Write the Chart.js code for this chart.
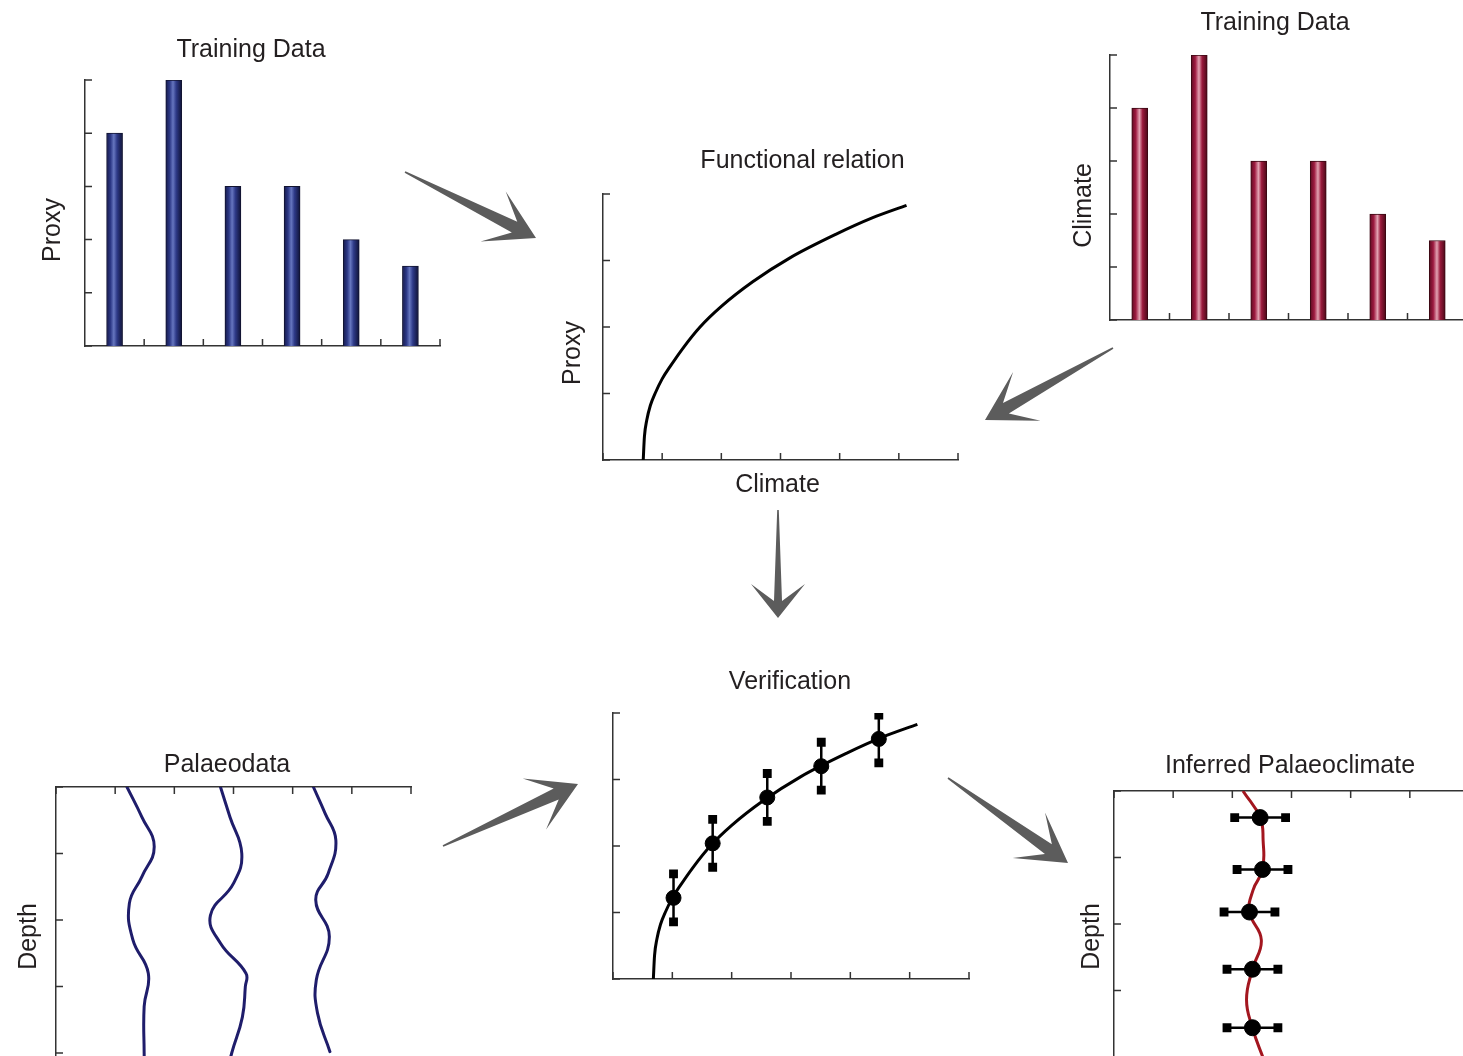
<!DOCTYPE html>
<html>
<head>
<meta charset="utf-8">
<title>Proxy calibration and palaeoclimate inference</title>
<script src="https://cdn.jsdelivr.net/npm/chart.js@4.4.0/dist/chart.umd.min.js"></script>
<style>
  html, body { margin: 0; padding: 0; background: #fff; overflow: hidden; width: 1463px; height: 1056px; }
  canvas { position: absolute; left: 0; top: 0; }
</style>
</head>
<body>
<canvas id="arrows" width="1463" height="1056"></canvas>
<canvas id="proxyBars" width="1500" height="1150"></canvas>
<canvas id="climateBars" width="1500" height="1150"></canvas>
<canvas id="relation" width="1500" height="1150"></canvas>
<canvas id="palaeo" width="1500" height="1150"></canvas>
<canvas id="verify" width="1500" height="1150"></canvas>
<canvas id="inferred" width="1500" height="1150"></canvas>
<script>
// training samples
const samples = ['1', '2', '3', '4', '5', '6'];
const proxyValues = [4, 5, 3, 3, 2, 1.5];
const climateValues = [4, 5, 3, 3, 2, 1.5];

// functional relation (climate -> proxy)
const curveClimate = [0.68, 0.70, 0.74, 0.80, 0.88, 1.0, 1.13, 1.35, 1.64, 2.0, 2.53, 3.16, 3.95, 4.55, 5.13];
const curveProxy   = [0, 0.35, 0.60, 0.82, 1.0, 1.22, 1.40, 1.68, 2.0, 2.31, 2.68, 3.04, 3.40, 3.64, 3.83];

// verification points
const verifClimate = [1.02, 1.68, 2.60, 3.51, 4.48];
const verifProxy   = [1.22, 2.04, 2.73, 3.20, 3.61];
const verifErr     = [0.36, 0.36, 0.36, 0.36, 0.36];

// palaeodata cores (value vs depth)
const core1X = [1.20, 1.45, 1.66, 1.45, 1.24, 1.30, 1.56, 1.49, 1.49, 1.50];
const core1D = [0, 0.45, 0.90, 1.35, 1.75, 2.30, 2.80, 3.30, 4.00, 4.60];
const core2X = [2.78, 2.94, 3.14, 3.00, 2.61, 2.78, 3.21, 3.20, 3.15, 2.97, 2.86];
const core2D = [0, 0.45, 1.00, 1.45, 1.93, 2.35, 2.80, 3.00, 3.46, 4.00, 4.40];
const core3X = [4.35, 4.55, 4.73, 4.60, 4.39, 4.62, 4.40, 4.42, 4.63];
const core3D = [0, 0.40, 0.80, 1.30, 1.70, 2.25, 2.90, 3.40, 3.98];

// inferred palaeoclimate
const inferLineX = [2.18, 2.47, 2.52, 2.51, 2.35, 2.29, 2.49, 2.34, 2.24, 2.34, 2.51, 2.67];
const inferLineD = [0, 0.40, 0.74, 1.18, 1.49, 1.82, 2.24, 2.68, 3.14, 3.56, 3.99, 4.35];
const inferX   = [2.47, 2.51, 2.29, 2.34, 2.34];
const inferD   = [0.40, 1.18, 1.82, 2.68, 3.56];
const inferErr = [0.43, 0.43, 0.43, 0.43, 0.43];

const W = 1500, H = 1150;
const AXIS = '#333';
const TEXT = '#231f20';
const FONT = '25px "Liberation Sans", Arial, Helvetica, sans-serif';

const xy = (xs, ys) => xs.map((x, i) => ({x: x, y: ys[i]}));

// vertical error bars: two ends then a gap
const vErrBars = (xs, ys, es) => {
  const out = [];
  xs.forEach((x, i) => {
    out.push({x: x, y: ys[i] - es[i]}, {x: x, y: ys[i] + es[i]}, {x: null, y: null});
  });
  return out;
};
const hErrBars = (xs, ys, es) => {
  const out = [];
  xs.forEach((x, i) => {
    out.push({x: x - es[i], y: ys[i]}, {x: x + es[i], y: ys[i]}, {x: null, y: null});
  });
  return out;
};

// ticks pointing into the plot
const innerTicks = {
  id: 'innerTicks',
  beforeDatasetsDraw(chart) {
    const {ctx, chartArea} = chart;
    const len = 7;
    ctx.save();
    ctx.strokeStyle = AXIS;
    ctx.lineWidth = 1.5;
    ctx.beginPath();
    Object.values(chart.scales).forEach(s => {
      let pos;
      if (s.type === 'category') {
        pos = s.getLabels().map((l, i) => s.getPixelForValue(i + 0.5));
      } else {
        pos = s.ticks.map(t => s.getPixelForValue(t.value));
      }
      pos.forEach(p => {
        if (s.isHorizontal()) {
          const y0 = s.options.position === 'top' ? chartArea.top : chartArea.bottom;
          const dir = s.options.position === 'top' ? 1 : -1;
          ctx.moveTo(p, y0);
          ctx.lineTo(p, y0 + dir * len);
        } else {
          ctx.moveTo(chartArea.left, p);
          ctx.lineTo(chartArea.left + len, p);
        }
      });
    });
    ctx.stroke();
    ctx.restore();
  }
};

// titles and axis names
const panelText = {
  id: 'panelText',
  afterDraw(chart, args, opts) {
    const ctx = chart.ctx;
    ctx.save();
    ctx.fillStyle = TEXT;
    ctx.font = FONT;
    ctx.textAlign = 'center';
    ctx.textBaseline = 'alphabetic';
    (opts.items || []).forEach(t => {
      ctx.save();
      ctx.translate(t.x, t.y);
      if (t.rot) ctx.rotate(-Math.PI / 2);
      ctx.fillText(t.text, 0, 0);
      ctx.restore();
    });
    ctx.restore();
  }
};

const barGradient = (stops) => (c) => {
  const xs = c.chart.scales.x;
  if (c.type !== 'data' || !xs) return stops[2][1];
  const cx = xs.getPixelForValue(c.dataIndex);
  if (!isFinite(cx)) return stops[2][1];
  const g = c.chart.ctx.createLinearGradient(cx - 8, 0, cx + 8, 0);
  stops.forEach(s => g.addColorStop(s[0], s[1]));
  return g;
};
const blueStops = [[0, '#161a4c'], [0.25, '#2c3886'], [0.45, '#6676bf'], [0.65, '#2e3a88'], [1, '#0f1236']];
const redStops = [[0, '#5e0c22'], [0.25, '#9e1a40'], [0.48, '#e3a3b3'], [0.68, '#9a1a3c'], [1, '#4a0918']];

const axisOpts = (extra) => Object.assign({
  display: true,
  grid: {display: false, drawTicks: false},
  border: {display: true, color: AXIS, width: 1.5},
  ticks: {display: false}
}, extra);
const linAxis = (min, max, extra) => axisOpts(Object.assign({
  type: 'linear', min: min, max: max, ticks: {display: false, stepSize: 1}
}, extra));

// chart area given in page pixels
const makePanel = (id, type, datasets, scales, box, texts, labels) => {
  const cfg = {
    type: type,
    data: {datasets: datasets},
    options: {
      responsive: false,
      animation: false,
      devicePixelRatio: 1,
      events: [],
      layout: {
        autoPadding: false,
        padding: {left: box[0], top: box[1], right: W - box[2], bottom: H - box[3]}
      },
      scales: scales,
      plugins: {
        legend: {display: false},
        tooltip: {enabled: false},
        panelText: {items: texts}
      }
    },
    plugins: [innerTicks, panelText]
  };
  if (labels) cfg.data.labels = labels;
  return new Chart(document.getElementById(id), cfg);
};

// Training data: proxy
makePanel('proxyBars', 'bar', [{
  data: proxyValues,
  backgroundColor: barGradient(blueStops),
  borderColor: '#121430',
  borderWidth: 1,
  barThickness: 16
}], {
  x: axisOpts({type: 'category', offset: true}),
  y: linAxis(0, 5)
}, [85, 80, 440, 346], [
  {text: 'Training Data', x: 251, y: 56.5},
  {text: 'Proxy', x: 59.5, y: 230, rot: true}
], samples);

// Training data: climate
makePanel('climateBars', 'bar', [{
  data: climateValues,
  backgroundColor: barGradient(redStops),
  borderColor: '#3a0812',
  borderWidth: 1,
  barThickness: 16
}], {
  x: axisOpts({type: 'category', offset: true}),
  y: linAxis(0, 5)
}, [1110, 55, 1467, 320], [
  {text: 'Training Data', x: 1275, y: 30},
  {text: 'Climate', x: 1091, y: 205.5, rot: true}
], samples);

// Functional relation
makePanel('relation', 'line', [{
  data: xy(curveClimate, curveProxy),
  borderColor: '#000',
  borderWidth: 3,
  pointRadius: 0,
  cubicInterpolationMode: 'monotone',
  fill: false
}], {
  x: linAxis(0, 6),
  y: linAxis(0, 4)
}, [603, 194, 958, 460], [
  {text: 'Functional relation', x: 802.5, y: 168},
  {text: 'Proxy', x: 580, y: 353, rot: true},
  {text: 'Climate', x: 777.5, y: 492}
]);

// Palaeodata
const coreLine = (xs, ds) => ({
  data: xy(xs, ds),
  borderColor: '#1f1d6b',
  borderWidth: 3,
  borderCapStyle: 'round',
  pointRadius: 0,
  tension: 0.45,
  fill: false
});
makePanel('palaeo', 'line', [
  coreLine(core1X, core1D),
  coreLine(core2X, core2D),
  coreLine(core3X, core3D)
], {
  x: linAxis(0, 6, {position: 'top'}),
  y: linAxis(0, 5, {reverse: true})
}, [56, 787, 411, 1119.5], [
  {text: 'Palaeodata', x: 227, y: 772},
  {text: 'Depth', x: 36, y: 936.5, rot: true}
]);

// Verification
makePanel('verify', 'line', [{
  data: xy(verifClimate, verifProxy),
  showLine: false,
  pointRadius: 7.5,
  pointBackgroundColor: '#000',
  pointBorderColor: '#000'
}, {
  data: vErrBars(verifClimate, verifProxy, verifErr),
  borderColor: '#000',
  borderWidth: 2.5,
  tension: 0,
  pointStyle: 'rect',
  pointRadius: 4.5,
  pointBackgroundColor: '#000',
  pointBorderColor: '#000'
}, {
  data: xy(curveClimate, curveProxy),
  borderColor: '#000',
  borderWidth: 3,
  pointRadius: 0,
  cubicInterpolationMode: 'monotone',
  fill: false
}], {
  x: linAxis(0, 6),
  y: linAxis(0, 4)
}, [613, 713, 969, 979], [
  {text: 'Verification', x: 790, y: 689}
]);

// Inferred palaeoclimate
makePanel('inferred', 'line', [{
  data: xy(inferX, inferD),
  showLine: false,
  pointRadius: 8,
  pointBackgroundColor: '#000',
  pointBorderColor: '#000'
}, {
  data: hErrBars(inferX, inferD, inferErr),
  borderColor: '#000',
  borderWidth: 2.5,
  tension: 0,
  pointStyle: 'rect',
  pointRadius: 4.5,
  pointBackgroundColor: '#000',
  pointBorderColor: '#000'
}, {
  data: xy(inferLineX, inferLineD),
  borderColor: '#a3161f',
  borderWidth: 3,
  pointRadius: 0,
  tension: 0.45,
  fill: false
}], {
  x: linAxis(0, 6, {position: 'top'}),
  y: linAxis(0, 5, {reverse: true})
}, [1114, 791, 1469, 1123.5], [
  {text: 'Inferred Palaeoclimate', x: 1290, y: 772.5},
  {text: 'Depth', x: 1099, y: 936.5, rot: true}
]);

// flow arrows between panels
const arrowList = [
  {from: [405, 172], to: [536, 238]},
  {from: [1113, 348], to: [985, 420]},
  {from: [778, 510], to: [778, 618], head: 34, half: 27, shaft: 4},
  {from: [443, 846], to: [578, 784]},
  {from: [948, 778], to: [1068, 863]}
];
const actx = document.getElementById('arrows').getContext('2d');
actx.fillStyle = '#5c5c5c';
arrowList.forEach(a => {
  const [x0, y0] = a.from, [x1, y1] = a.to;
  const len = Math.hypot(x1 - x0, y1 - y0);
  const ux = (x1 - x0) / len, uy = (y1 - y0) / len;
  const px = -uy, py = ux;
  const hl = a.head || 48, hw = a.half || 28, notch = hl * 0.5, sw = a.shaft || 6;
  const P = (u, v) => [x0 + ux * u + px * v, y0 + uy * u + py * v];
  const pts = [P(0, -0.8), P(len - notch, -sw), P(len - hl, -hw), P(len, 0),
               P(len - hl, hw), P(len - notch, sw), P(0, 0.8)];
  actx.beginPath();
  pts.forEach((p, i) => i ? actx.lineTo(p[0], p[1]) : actx.moveTo(p[0], p[1]));
  actx.closePath();
  actx.fill();
});
</script>
</body>
</html>
